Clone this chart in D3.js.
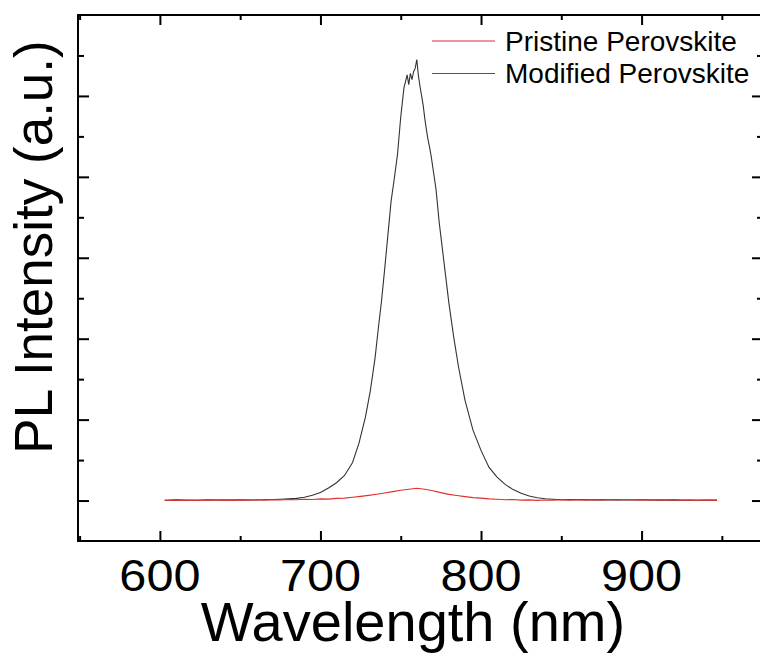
<!DOCTYPE html>
<html>
<head>
<meta charset="utf-8">
<script src="https://cdn.jsdelivr.net/npm/d3@7"></script>
<style>
  body { margin: 0; background: #fff; }
  text { font-family: "Liberation Sans", Arial, sans-serif; fill: #000; }
</style>
</head>
<body>
<svg id="chart" width="760" height="657"></svg>
<script>
// Series names (legend order)
var seriesNames = ["Pristine Perovskite", "Modified Perovskite"];

// Modified perovskite PL spectrum
var modWavelength = [603, 610, 620, 630, 640, 650, 660, 670, 675, 680, 685, 690, 695, 700, 705, 710, 715, 720, 724, 728,
  731, 734, 736, 738, 740, 742, 744, 746, 748, 750, 752, 753, 754, 755, 756, 757, 758, 759, 760, 761,
  762, 763, 764, 765, 766, 767, 768, 769, 771, 772, 774, 776, 778, 780, 783, 786, 790, 795, 800, 805,
  810, 815, 820, 825, 830, 835, 840, 845, 850, 860, 870, 880, 890, 900, 910, 920, 930, 940, 947];
var modIntensity = [0.004, 0.008, 0.003, 0.009, 0.005, 0.010, 0.006, 0.012, 0.015, 0.020, 0.027, 0.040, 0.065, 0.100, 0.155, 0.220, 0.310, 0.470, 0.710, 1.030,
  1.350, 1.760, 2.120, 2.460, 2.860, 3.280, 3.700, 3.980, 4.280, 4.740, 5.100, 5.180, 5.260, 5.140, 5.280, 5.200, 5.300, 5.340, 5.450, 5.250,
  5.120, 5.000, 4.880, 4.720, 4.580, 4.460, 4.360, 4.250, 3.980, 3.840, 3.430, 3.100, 2.770, 2.440, 2.020, 1.650, 1.240, 0.870, 0.620, 0.410,
  0.290, 0.200, 0.135, 0.090, 0.055, 0.035, 0.022, 0.015, 0.010, 0.012, 0.008, 0.011, 0.006, 0.009, 0.005, 0.008, 0.004, 0.007, 0.005];

// Pristine perovskite PL spectrum
var priWavelength = [603, 605, 610, 615, 620, 625, 630, 635, 640, 645, 650, 655, 660, 665, 670, 675, 680, 685, 690, 695,
  700, 705, 710, 715, 720, 725, 730, 735, 740, 745, 750, 755, 760, 765, 770, 775, 780, 785, 790, 795,
  800, 805, 810, 815, 820, 825, 830, 835, 840, 845, 850, 855, 860, 865, 870, 875, 880, 885, 890, 895,
  900, 905, 910, 915, 920, 925, 930, 935, 940, 945, 947];
var priIntensity = [0.005, 0.000, 0.008, 0.002, 0.006, 0.000, 0.007, 0.003, 0.008, 0.002, 0.006, 0.004, 0.009, 0.005, 0.010, 0.006, 0.012, 0.009, 0.015, 0.013,
  0.020, 0.018, 0.027, 0.030, 0.040, 0.052, 0.064, 0.078, 0.093, 0.110, 0.128, 0.140, 0.152, 0.140, 0.120, 0.098, 0.076, 0.062, 0.048, 0.036,
  0.030, 0.020, 0.016, 0.010, 0.012, 0.005, 0.008, 0.002, 0.007, 0.003, 0.009, 0.004, 0.010, 0.005, 0.011, 0.006, 0.012, 0.007, 0.012, 0.006,
  0.011, 0.005, 0.010, 0.004, 0.009, 0.004, 0.008, 0.003, 0.007, 0.002, 0.005];

// Axis ticks
var xMajorTicks = [600, 700, 800, 900];
var xMinorTicks = [550, 650, 750, 850, 950];
var yMajorTicks = [0, 1, 2, 3, 4, 5];
var yMinorTicks = [0.5, 1.5, 2.5, 3.5, 4.5, 5.5];

var svg = d3.select("#chart");
var plotLeft = 78, plotRight = 762, plotTop = 15, plotBottom = 541;

var x = d3.scaleLinear().domain([549, 975]).range([plotLeft, plotRight]);
var y = d3.scaleLinear().domain([-0.5, 6]).range([plotBottom, plotTop]);

function toPoints(xs, ys) {
  return xs.map(function(d, i) { return [d, ys[i]]; });
}

var line = d3.line()
  .x(function(d) { return x(d[0]); })
  .y(function(d) { return y(d[1]); });

var plot = svg.append("g");

plot.append("path")
  .datum(toPoints(modWavelength, modIntensity))
  .attr("d", line)
  .attr("fill", "none")
  .attr("stroke", "#333")
  .attr("stroke-width", 1.1);

plot.append("path")
  .datum(toPoints(priWavelength, priIntensity))
  .attr("d", line)
  .attr("fill", "none")
  .attr("stroke", "#e0302c")
  .attr("stroke-width", 1.1);

// axes: major ticks 10px, minor 5px, all pointing inward
function addTicks(axisFn, scale, ticks, size, pos) {
  return svg.append("g")
    .attr("transform", pos)
    .call(axisFn(scale).tickValues(ticks).tickSize(size).tickFormat(""));
}

addTicks(d3.axisTop, x, xMajorTicks, 10, "translate(0," + plotBottom + ")");
addTicks(d3.axisTop, x, xMinorTicks, 5, "translate(0," + plotBottom + ")");
addTicks(d3.axisBottom, x, xMajorTicks, 10, "translate(0," + plotTop + ")");
addTicks(d3.axisBottom, x, xMinorTicks, 5, "translate(0," + plotTop + ")");
addTicks(d3.axisRight, y, yMajorTicks, 11, "translate(" + plotLeft + ",0)");
addTicks(d3.axisRight, y, yMinorTicks, 6, "translate(" + plotLeft + ",0)");
addTicks(d3.axisLeft, y, yMajorTicks, 10, "translate(" + plotRight + ",0)");
addTicks(d3.axisLeft, y, yMinorTicks, 5, "translate(" + plotRight + ",0)");

svg.selectAll(".domain").remove();
svg.selectAll(".tick line").attr("stroke", "#000").attr("stroke-width", 2);

// frame
svg.append("rect")
  .attr("x", plotLeft).attr("y", plotTop)
  .attr("width", plotRight - plotLeft).attr("height", plotBottom - plotTop)
  .attr("fill", "none")
  .attr("stroke", "#000")
  .attr("stroke-width", 2);

// x tick labels
svg.append("g").selectAll("text")
  .data(xMajorTicks)
  .enter().append("text")
  .attr("transform", function(d) { return "translate(" + x(d) + ",591) scale(1.08,1)"; })
  .attr("text-anchor", "middle")
  .style("font-size", "45px")
  .text(function(d) { return d; });

// axis titles
svg.append("text")
  .attr("x", 413).attr("y", 641)
  .attr("text-anchor", "middle")
  .style("font-size", "56px")
  .text("Wavelength (nm)");

svg.append("text")
  .attr("transform", "translate(52,247) rotate(-90)")
  .attr("text-anchor", "middle")
  .style("font-size", "53px")
  .text("PL Intensity (a.u.)");

// legend
var legendColors = ["#e0302c", "#555"];
var legend = svg.append("g").selectAll("g")
  .data(seriesNames)
  .enter().append("g")
  .attr("transform", function(d, i) { return "translate(432," + (41 + i * 32.5) + ")"; });

legend.append("line")
  .attr("x1", 0).attr("x2", 63)
  .attr("stroke", function(d, i) { return legendColors[i]; })
  .attr("stroke-width", 1.2);

legend.append("text")
  .attr("x", 73).attr("y", 9.5)
  .style("font-size", "28px")
  .text(function(d) { return d; });
</script>
</body>
</html>
